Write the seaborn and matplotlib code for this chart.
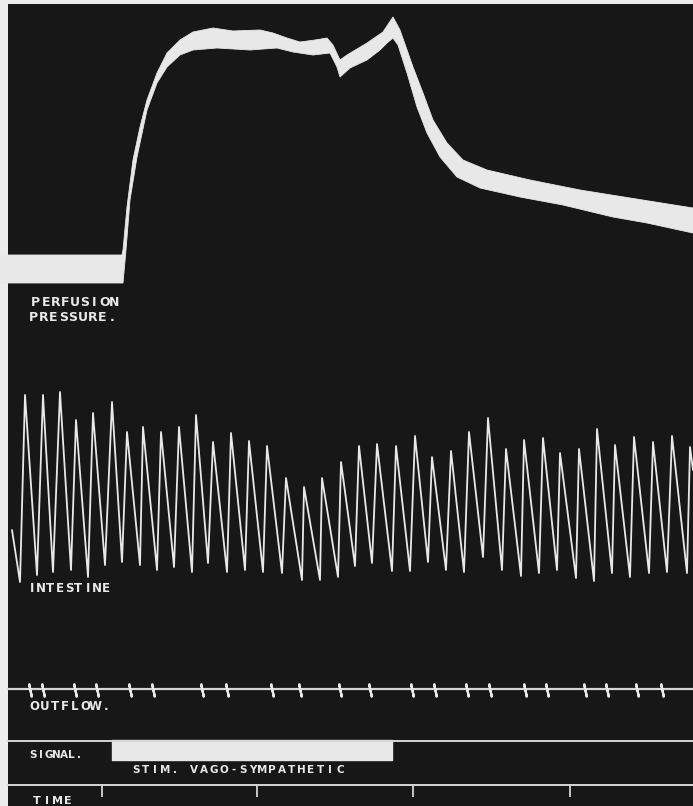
import numpy as np
import matplotlib
matplotlib.use("Agg")
import matplotlib.pyplot as plt
import seaborn as sns
import pandas as pd

# Kymograph record: perfusion pressure, intestine, outflow, signal, time
# x values are drum position (px along the record)

# Perfusion pressure band (upper and lower edge of the written trace)
press_top_x = [0, 122, 123, 127, 133, 140, 147, 157, 167, 180, 193, 213, 233, 260, 273, 287,
               300, 315, 327, 333, 340, 347, 367, 383, 393, 400, 413, 423, 433, 447, 463,
               487, 530, 580, 630, 693]
press_top_y = [45, 45, 50, 93, 140, 173, 200, 227, 247, 260, 268, 272, 269, 270, 267, 262,
               258, 260, 262, 255, 240, 245, 257, 268, 283, 270, 233, 207, 180, 157, 140,
               130, 120, 110, 102, 92]
press_bot_x = [0, 123, 126, 130, 137, 147, 157, 167, 180, 193, 217, 250, 277, 293, 313, 330,
               337, 340, 350, 367, 380, 387, 393, 398, 407, 417, 427, 440, 457, 480, 520,
               563, 613, 647, 693]
press_bot_y = [17, 17, 50, 100, 143, 190, 217, 233, 245, 250, 252, 250, 252, 248, 245, 247,
               233, 223, 232, 240, 250, 257, 262, 255, 227, 193, 167, 143, 123, 112, 103,
               95, 83, 77, 67]

# Intestine contractions (turning points of the lever)
gut_x = [12, 20, 25, 37, 43, 53, 60, 71, 76, 88, 93, 105, 112, 122, 127, 140, 143, 157, 161,
         174, 179, 192, 196, 208, 213, 227, 231, 245, 249, 263, 267, 282, 286, 302, 304, 320,
         322, 338, 341, 355, 359, 372, 377, 392, 396, 410, 415, 428, 432, 446, 451, 464, 469,
         483, 488, 502, 506, 521, 524, 539, 543, 557, 560, 576, 579, 594, 597, 612, 615, 630,
         634, 649, 653, 667, 672, 687, 690, 693]
gut_y = [70, 18, 205, 25, 205, 28, 208, 30, 180, 23, 187, 35, 198, 38, 168, 35, 173, 30, 168,
         33, 173, 28, 185, 37, 158, 28, 167, 30, 159, 28, 154, 27, 122, 20, 113, 20,
         122, 23, 138, 34, 154, 37, 156, 29, 154, 29, 164, 38, 143, 30, 149, 28, 168,
         43, 182, 30, 151, 24, 160, 27, 162, 30, 147, 22, 151, 19, 171, 27, 155, 23,
         163, 27, 158, 28, 164, 27, 153, 130]

# Outflow drop marks, stimulation period and time marks
outflow_drops = [30, 43, 75, 97, 130, 153, 202, 227, 272, 300, 340, 370, 412, 435, 467, 490,
                 525, 547, 585, 607, 637, 662]
stim_start, stim_end = 112, 392
time_marks = [102, 257, 413, 570]

W, H = 693, 806
BG = "#ececec"
DARK = "#171717"
INK = "#e8e8e8"

sns.set_theme(style="dark")
plt.rcParams["font.family"] = ["DejaVu Sans"]

fig = plt.figure(figsize=(W / 100, H / 100), dpi=100, facecolor=BG)

# the smoked paper
paper = fig.add_axes([8 / W, 0, (W - 8) / W, (H - 4) / H])
paper.set_facecolor(DARK)
paper.set_xticks([])
paper.set_yticks([])
for s in paper.spines.values():
    s.set_visible(False)


def channel(top, bottom):
    ax = fig.add_axes([0, (H - bottom) / H, 1, (bottom - top) / H])
    ax.set_xlim(0, W)
    ax.set_ylim(0, bottom - top)
    ax.patch.set_alpha(0)
    ax.set_xticks([])
    ax.set_yticks([])
    for s in ax.spines.values():
        s.set_visible(False)
    return ax


# hand lettered labels: wide, evenly spaced capitals
def lettering(txt, x0, x1, yc, fs):
    step = (x1 - x0) / len(txt)
    for i, ch in enumerate(txt):
        fig.text((x0 + (i + 0.5) * step) / W, 1 - yc / H, ch, color=INK, fontsize=fs,
                 fontweight="bold", ha="center", va="center")


# perfusion pressure
ax_p = channel(4, 300)
ax_p.fill(np.r_[press_top_x, press_bot_x[::-1]], np.r_[press_top_y, press_bot_y[::-1]],
          color=INK, lw=0.6, ec=INK)

# intestine
ax_g = channel(380, 600)
gut = pd.DataFrame({"x": gut_x, "y": gut_y})
sns.lineplot(data=gut, x="x", y="y", sort=False, estimator=None, ax=ax_g,
             color=INK, lw=1.3, solid_joinstyle="round")
ax_g.set_xlabel("")
ax_g.set_ylabel("")

# outflow
ax_o = channel(670, 720)
ax_o.axhline(31, xmin=8 / W, color="#d6d6d6", lw=1.6)
ax_o.plot(outflow_drops, [30] * len(outflow_drops), ls="none",
          marker=(2, 2, 12), ms=10, mec=INK, mew=1.6)

# signal
ax_s = channel(730, 775)
ax_s.axhline(34, xmin=8 / W, color="#d6d6d6", lw=1.4)
ax_s.broken_barh([(stim_start, stim_end - stim_start)], (15, 20), color=INK)

# time
ax_t = channel(775, 806)
ax_t.axhline(21, xmin=8 / W, color="#d6d6d6", lw=1.4)
ax_t.vlines(time_marks, 9, 21, color="#d6d6d6", lw=1.3)

lettering("PERFUSION", 31, 119, 302.5, 9)
lettering("PRESSURE.", 29, 117, 317.5, 9)
lettering("INTESTINE", 27, 111, 589, 8.5)
lettering("OUTFLOW.", 29, 111, 706, 8.5)
lettering("SIGNAL.", 29, 83, 755, 7.5)
lettering("STIM. VAGO-SYMPATHETIC", 131, 345, 770, 7.5)
lettering("TIME", 32, 73, 801, 8)

fig.savefig("out.png", dpi=100, facecolor=BG)
